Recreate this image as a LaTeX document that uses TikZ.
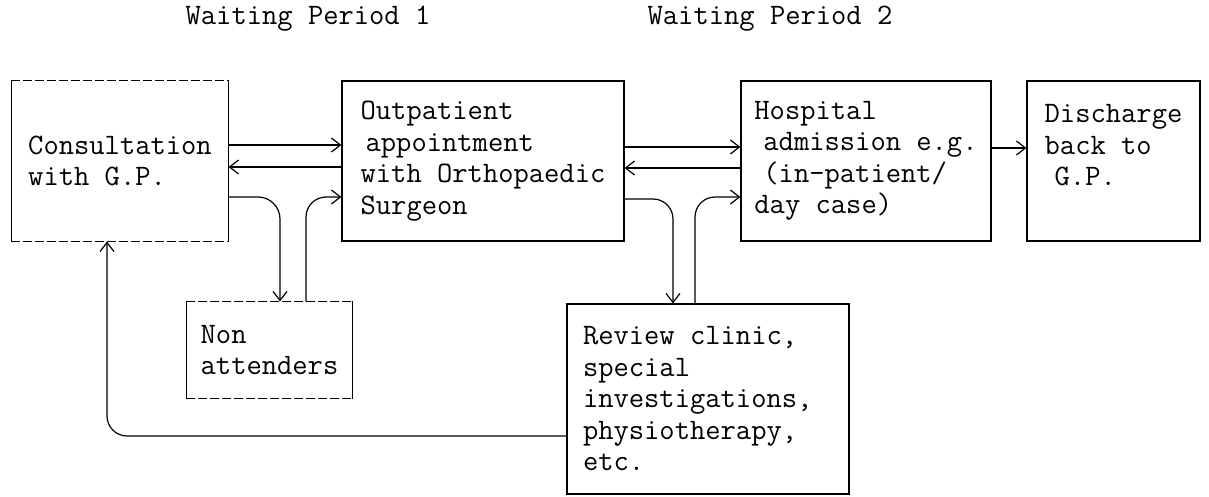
\documentclass[tikz,border=0pt]{standalone}
\usepackage{fontspec}
\usetikzlibrary{arrows.meta}
\newcommand{\boxfont}{\ttfamily\fontsize{29.7}{31.5}\selectfont}

\begin{document}
\begin{tikzpicture}[x=1pt,y=-1pt,
  box/.style={draw,line width=1.2pt,align=left,font=\boxfont},
  arr/.style={line width=1.2pt,-{Straight Barb[length=9pt,width=14pt]}}]
  \useasboundingbox (0,0) rectangle (1209,497);

  \node[font=\boxfont,anchor=base] (wp1) at (308,25) {Waiting Period 1};
  \node[font=\boxfont,anchor=base] (wp2) at (770,25) {Waiting Period 2};

  \node[box,draw=none,minimum width=216pt,minimum height=160pt] (gp) at (120,161)
    {Consultation\\with G.P.};
  \node[box,minimum width=282pt,minimum height=160pt] (opd) at (483,161)
    {Outpatient\\\hspace*{5pt}appointment\\with Orthopaedic\\Surgeon};
  \node[box,minimum width=250pt,minimum height=160pt] (adm) at (866,161)
    {Hospital\\\hspace*{9pt}admission e.g.\\\hspace*{9pt}(in-patient/\\day case)};
  \node[box,minimum width=173pt,minimum height=160pt] (dis) at (1113.5,161)
    {Discharge\\back to\\\hspace*{10pt}G.P.\\\mbox{}};
  \node[box,draw=none,minimum width=165pt,minimum height=96pt] (non) at (269.5,350)
    {Non\\attenders};
  \node[box,minimum width=282pt,minimum height=190pt] (rev) at (708,399)
    {Review clinic,\\special\\\makebox[250pt][l]{investigations,}\\physiotherapy,\\etc.};

  \foreach \n in {gp,non}{
    \draw[line width=1.2pt] (\n.north west) -- (\n.south west) (\n.north east) -- (\n.south east);
    \draw[line width=1.2pt,dash pattern=on 9pt off 3pt] (\n.north west) -- (\n.north east) (\n.south west) -- (\n.south east);
  }

  \draw[arr] ([yshift=16pt]gp.east) -- ([yshift=16pt]opd.west);
  \draw[arr] ([yshift=-6pt]opd.west) -- ([yshift=-6pt]gp.east);
  \draw[arr,rounded corners=22pt] ([yshift=-36pt]gp.east) -| ([xshift=10.5pt]non.north);
  \draw[arr,rounded corners=20pt] ([xshift=36.5pt]non.north) |- ([yshift=-36pt]opd.west);

  \draw[arr] ([yshift=14pt]opd.east) -- ([yshift=14pt]adm.west);
  \draw[arr] ([yshift=-7pt]adm.west) -- ([yshift=-7pt]opd.east);
  \draw[arr,rounded corners=20pt] ([yshift=-38pt]opd.east) -| ([xshift=-35pt]rev.north);
  \draw[arr,rounded corners=20pt] ([xshift=-13pt]rev.north) |- ([yshift=-36pt]adm.west);

  \draw[arr] ([yshift=13pt]adm.east) -- ([yshift=13pt]dis.west);
  \draw[arr,rounded corners=20pt] ([yshift=-37pt]rev.west) -| ([xshift=-13pt]gp.south);
\end{tikzpicture}
\end{document}
